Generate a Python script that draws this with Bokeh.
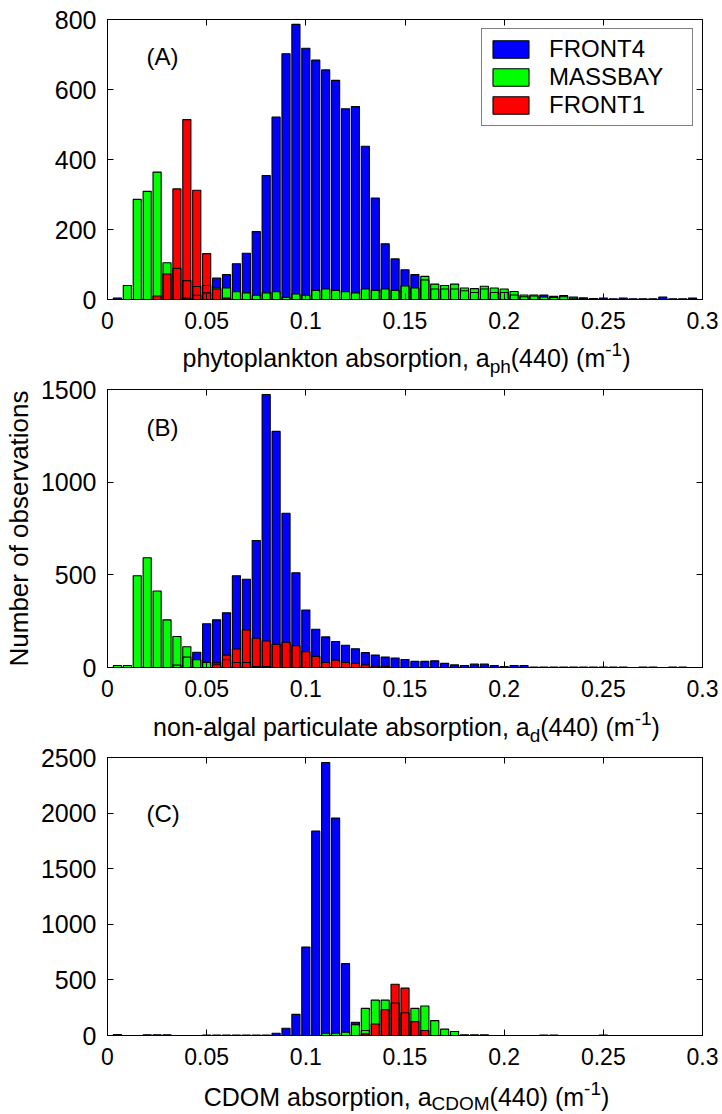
from bokeh.plotting import figure
from bokeh.models import (Range1d, FixedTicker, LinearAxis, Label, Legend,
                          LegendItem, NumeralTickFormatter, ColumnDataSource,
                          CustomLabelingPolicy)
from bokeh.layouts import column
from bokeh.embed import file_html
from bokeh.resources import INLINE

# ---------------- data ----------------
bins = [0.005, 0.010, 0.015, 0.020, 0.025, 0.030, 0.035, 0.040, 0.045, 0.050,
        0.055, 0.060, 0.065, 0.070, 0.075, 0.080, 0.085, 0.090, 0.095, 0.100,
        0.105, 0.110, 0.115, 0.120, 0.125, 0.130, 0.135, 0.140, 0.145, 0.150,
        0.155, 0.160, 0.165, 0.170, 0.175, 0.180, 0.185, 0.190, 0.195, 0.200,
        0.205, 0.210, 0.215, 0.220, 0.225, 0.230, 0.235, 0.240, 0.245, 0.250,
        0.255, 0.260, 0.265, 0.270, 0.275, 0.280, 0.285, 0.290, 0.295]

series_names = ["FRONT4", "MASSBAY", "FRONT1"]
series_colors = ["#0000FF", "#00FF00", "#FF0000"]

# (A) phytoplankton absorption
a_front4 = [4, 0, 0, 0, 0, 0, 0, 4, 12, 19,
            61, 71, 102, 132, 194, 354, 521, 702, 786, 718,
            684, 656, 626, 545, 551, 438, 290, 159, 116, 85,
            71, 56, 30, 30, 30, 25, 20, 30, 20, 20,
            13, 8, 10, 13, 6, 8, 4, 3, 3, 4,
            2, 4, 2, 2, 2, 7, 2, 2, 4]
a_massbay = [0, 40, 286, 309, 364, 105, 89, 54, 37, 40,
             33, 33, 22, 19, 12, 19, 22, 6, 16, 12,
             26, 30, 26, 22, 19, 30, 26, 30, 26, 39,
             33, 66, 44, 40, 44, 33, 31, 38, 33, 30,
             23, 13, 13, 7, 9, 11, 7, 5, 0, 0,
             0, 0, 0, 0, 0, 0, 0, 0, 0]
a_front1 = [0, 0, 0, 0, 10, 73, 316, 514, 312, 131,
            30, 4, 0, 0, 0, 0, 0, 0, 0, 0,
            0, 0, 0, 0, 0, 0, 0, 0, 0, 0,
            0, 0, 0, 0, 0, 0, 0, 0, 0, 0,
            0, 0, 0, 0, 0, 0, 0, 0, 0, 0,
            0, 0, 0, 0, 0, 0, 0, 0, 0]

# (B) non-algal particulate absorption
b_front4 = [0, 0, 0, 0, 0, 0, 13, 56, 82, 236,
            257, 295, 495, 476, 685, 1473, 1274, 832, 511, 310,
            206, 165, 140, 120, 101, 80, 67, 56, 51, 43,
            33, 33, 36, 22, 14, 11, 18, 18, 11, 5,
            11, 11, 3, 3, 3, 3, 3, 3, 3, 2,
            2, 2, 0, 2, 2, 0, 2, 2, 0]
b_massbay = [11, 11, 495, 592, 413, 257, 167, 112, 42, 27,
             15, 42, 27, 27, 5, 5, 0, 0, 0, 0,
             0, 0, 0, 0, 0, 0, 0, 0, 0, 0,
             0, 0, 0, 0, 0, 0, 0, 0, 0, 0,
             0, 0, 0, 0, 0, 0, 0, 0, 0, 0,
             0, 0, 0, 0, 0, 0, 0, 0, 0]
b_front1 = [0, 0, 0, 0, 0, 0, 0, 0, 0, 0,
            25, 67, 100, 203, 158, 143, 125, 136, 118, 85,
            60, 27, 40, 27, 22, 14, 7, 7, 0, 0,
            0, 0, 0, 0, 0, 0, 0, 0, 0, 0,
            0, 0, 0, 0, 0, 0, 0, 0, 0, 0,
            0, 0, 0, 0, 0, 0, 0, 0, 0]

# (C) CDOM absorption
c_front4 = [9, 0, 0, 6, 6, 6, 0, 0, 0, 5,
            5, 5, 5, 5, 5, 5, 20, 65, 190, 795,
            1839, 2455, 1955, 646, 119, 45, 0, 0, 0, 0,
            0, 0, 0, 0, 0, 0, 0, 0, 0, 0,
            0, 0, 0, 5, 5, 0, 0, 0, 0, 5,
            0, 0, 0, 0, 0, 0, 0, 0, 0]
c_massbay = [0, 0, 0, 0, 0, 0, 0, 0, 0, 0,
             0, 0, 0, 0, 0, 0, 0, 0, 0, 0,
             0, 20, 20, 30, 98, 244, 318, 318, 292, 205,
             244, 265, 134, 57, 36, 6, 6, 6, 0, 0,
             0, 0, 0, 0, 0, 0, 0, 0, 0, 0,
             0, 0, 0, 0, 0, 0, 0, 0, 0]
c_front1 = [0, 0, 0, 0, 0, 0, 0, 0, 0, 0,
            0, 0, 0, 0, 0, 0, 0, 0, 0, 0,
            0, 0, 0, 0, 0, 15, 104, 232, 461, 426,
            125, 45, 0, 0, 0, 0, 0, 0, 0, 0,
            0, 0, 0, 0, 0, 0, 0, 0, 0, 0,
            0, 0, 0, 0, 0, 0, 0, 0, 0]

x_ticks = [0, 0.05, 0.1, 0.15, 0.2, 0.25, 0.3]
a_yticks = [0, 200, 400, 600, 800]
b_yticks = [0, 500, 1000, 1500]
c_yticks = [0, 500, 1000, 1500, 2000, 2500]

panel_letters = ["(A)", "(B)", "(C)"]
xlabel_parts = [
    [("phytoplankton absorption, a", "main"), ("ph", "sub"), ("(440) (m", "main"), ("-1", "sup"), (")", "main")],
    [("non-algal particulate absorption, a", "main"), ("d", "sub"), ("(440) (m", "main"), ("-1", "sup"), (")", "main")],
    [("CDOM absorption, a", "main"), ("CDOM", "sub"), ("(440) (m", "main"), ("-1", "sup"), (")", "main")],
]
ylabel_text = "Number of observations"

# ---------------- styling helpers ----------------
FONT = "Liberation Sans"
W_FIG = 722
LEFT, RIGHT = 104, 20
FRAME_W = W_FIG - LEFT - RIGHT

# Arial / Liberation Sans advance widths (per 1000 em) for label layout
_W = {' ': 278, '(': 333, ')': 333, ',': 278, '-': 333, '.': 278,
      'a': 556, 'b': 556, 'c': 500, 'd': 556, 'e': 556, 'f': 278, 'g': 556,
      'h': 556, 'i': 222, 'j': 222, 'k': 500, 'l': 222, 'm': 833, 'n': 556,
      'o': 556, 'p': 556, 'q': 556, 'r': 333, 's': 500, 't': 278, 'u': 556,
      'v': 500, 'w': 722, 'x': 500, 'y': 500, 'z': 500,
      'A': 667, 'B': 667, 'C': 722, 'D': 722, 'M': 833, 'O': 778}

MAIN_PX, SMALL_PX = 25, 19


def tw(s, size):
    return sum(_W.get(ch, 556) for ch in s) * size / 1000.0


def label_strip(parts, height, base_y, sub_dy=-9, sup_dy=8):
    # frames of plots in a column are aligned, so this strip's frame spans the
    # same horizontal extent as the panels' frames
    s = figure(width=W_FIG, height=height, output_backend="svg", toolbar_location=None,
               x_axis_type=None, y_axis_type=None,
               min_border_left=LEFT, min_border_right=RIGHT,
               min_border_top=0, min_border_bottom=0,
               x_range=Range1d(0, 1), y_range=Range1d(0, 1))
    s.outline_line_color = None
    s.background_fill_color = "white"
    s.border_fill_color = "white"
    s.xgrid.visible = False
    s.ygrid.visible = False
    sizes = {"main": MAIN_PX, "sub": SMALL_PX, "sup": SMALL_PX}
    dy = {"main": 0, "sub": sub_dy, "sup": sup_dy}
    total = sum(tw(t, sizes[k]) for t, k in parts)
    x = FRAME_W / 2 - total / 2
    for t, k in parts:
        s.add_layout(Label(x=x, y=base_y + dy[k], x_units="screen", y_units="screen",
                           text=t, text_font=FONT, text_font_size=f"{sizes[k]}px",
                           text_align="left", text_baseline="alphabetic",
                           text_color="black"))
        x += tw(t, sizes[k])
    return s


NO_LABELS = CustomLabelingPolicy(code="""
    for (const i of indices) indices.unset(i)
    return indices
""")


def make_panel(vals, ymax, yticks, letter, letter_y, height, top, bottom, legend=False):
    p = figure(width=W_FIG, height=height, output_backend="svg", toolbar_location=None,
               x_range=Range1d(0, 0.3), y_range=Range1d(0, ymax),
               min_border_left=LEFT, min_border_right=RIGHT,
               min_border_top=top, min_border_bottom=bottom)
    p.background_fill_color = "white"
    p.border_fill_color = "white"
    p.outline_line_color = "black"
    p.outline_line_width = 1
    p.xgrid.visible = False
    p.ygrid.visible = False

    xa = p.xaxis[0]
    xa.ticker = FixedTicker(ticks=x_ticks)
    xa.formatter = NumeralTickFormatter(format="0.[00]")
    ya = p.yaxis[0]
    ya.ticker = FixedTicker(ticks=yticks)
    for ax in (xa, ya):
        ax.major_tick_in = 6
        ax.major_tick_out = 0
        ax.minor_tick_line_color = None
        ax.axis_line_color = "black"
        ax.major_tick_line_color = "black"
        ax.major_label_text_font = FONT
        ax.major_label_text_color = "black"
    xa.major_label_text_font_size = "23px"
    ya.major_label_text_font_size = "25px"
    xa.major_label_standoff = 12
    ya.major_label_standoff = 11

    for side, tick in (("above", x_ticks), ("right", yticks)):
        ax = LinearAxis(ticker=FixedTicker(ticks=tick), major_tick_in=6, major_tick_out=0,
                        minor_tick_line_color=None, major_label_text_font_size="1px",
                        major_label_policy=NO_LABELS,
                        major_label_standoff=0, axis_line_color="black",
                        major_tick_line_color="black")
        p.add_layout(ax, side)

    fills, lines = [], []
    for v, c in zip(vals, series_colors):
        src = ColumnDataSource(dict(x=bins, top=v))
        fills.append(p.vbar(x="x", top="top", width=0.0041, source=src,
                            fill_color=c, line_color=None))
    for v, c in zip(vals, series_colors):
        src = ColumnDataSource(dict(x=bins, top=v))
        lines.append(p.vbar(x="x", top="top", width=0.0041, source=src,
                            fill_color=None, line_color="black", line_width=1.1))

    p.add_layout(Label(x=39, y=letter_y, x_units="screen", y_units="screen",
                       text=letter, text_font=FONT, text_font_size="24px",
                       text_align="left", text_baseline="middle", text_color="black"))

    if legend:
        items = [LegendItem(label=n, renderers=[f, l])
                 for n, f, l in zip(series_names, fills, lines)]
        lg = Legend(items=items, location=(374, 173), margin=0, padding=6,
                    spacing=0, glyph_width=45, glyph_height=22, label_height=22,
                    label_standoff=16, label_width=137,
                    label_text_font=FONT, label_text_font_size="24px",
                    label_text_color="black",
                    border_line_color="black", border_line_width=1,
                    background_fill_color="white", background_fill_alpha=1)
        p.add_layout(lg, "center")
    return p


p1 = make_panel([a_front4, a_massbay, a_front1], 800, a_yticks, panel_letters[0], 243,
                339, 19, 40, legend=True)
s1 = label_strip(xlabel_parts[0], 41, 23)
p2 = make_panel([b_front4, b_massbay, b_front1], 1500, b_yticks, panel_letters[1], 240,
                327, 9, 40)
s2 = label_strip(xlabel_parts[1], 41, 22)
p3 = make_panel([c_front4, c_massbay, c_front1], 2500, c_yticks, panel_letters[2], 222,
                327, 9, 40)
s3 = label_strip(xlabel_parts[2], 39, 18, sub_dy=-7)

ya2 = p2.yaxis[0]
ya2.axis_label = ylabel_text
ya2.axis_label_text_font = FONT
ya2.axis_label_text_font_size = "26px"
ya2.axis_label_text_font_style = "normal"
ya2.axis_label_text_color = "black"
ya2.axis_label_standoff = 4

layout = column(p1, s1, p2, s2, p3, s3)
open("out.html", "w").write(file_html(layout, INLINE))
